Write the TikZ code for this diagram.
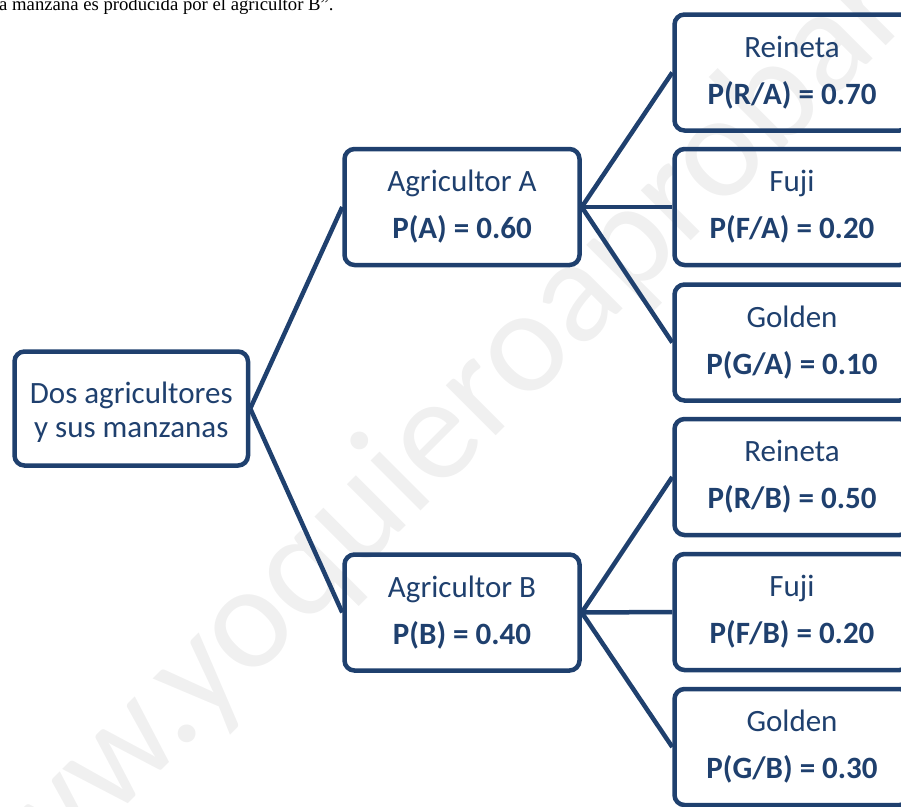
\documentclass[tikz,border=0pt]{standalone}
\usepackage{fontspec}
\setmainfont{Carlito}
\newfontfamily\serifface{Liberation Serif}
\definecolor{navy}{HTML}{1F406E}
\definecolor{wmgray}{HTML}{F0F0F0}
\begin{document}
\begin{tikzpicture}[x=1pt,y=-1pt,
  box/.style={draw=navy, line width=4.5pt, rounded corners=10pt, text=navy,
    align=center, inner sep=0pt, minimum height=116pt, minimum width=235pt,
    font=\fontsize{31}{47}\selectfont},
  conn/.style={draw=navy, line width=4.5pt}]
\useasboundingbox (0,0) rectangle (901,806);
\clip (0,0) rectangle (901,806);
\node[rotate=45, inner sep=0pt, text=wmgray, font=\fontsize{148}{148}\selectfont] (wmark) at (465,411) {www.yoquieroaprobar.es};
\node[anchor=base west, inner sep=0pt, font=\serifface\fontsize{18.7}{22}\selectfont] (toptext) at (-1,10.5) {a manzana es producida por el agricultor B”.};
\node[box, minimum width=233.5pt, minimum height=114pt, font=\fontsize{31}{34}\selectfont] (root) at (131.25,408.5) {\rule{0pt}{29pt}Dos agricultores\\y sus manzanas};
\node[box] (A) at (462,207) {Agricultor A\\\textbf{P(A) = 0.60}};
\node[box] (B) at (462,612.5) {Agricultor B\\\textbf{P(B) = 0.40}};
\node[box] (RA) at (792,72.5) {Reineta\\\textbf{P(R/A) = 0.70}};
\node[box] (FA) at (792,207) {Fuji\\\textbf{P(F/A) = 0.20}};
\node[box] (GA) at (792,342.5) {Golden\\\textbf{P(G/A) = 0.10}};
\node[box] (RB) at (792,477) {Reineta\\\textbf{P(R/B) = 0.50}};
\node[box] (FB) at (792,612) {Fuji\\\textbf{P(F/B) = 0.20}};
\node[box] (GB) at (792,747) {Golden\\\textbf{P(G/B) = 0.30}};
\draw[conn] (root.east) -- (A.west);
\draw[conn] (root.east) -- (B.west);
\draw[conn] (A.east) -- (RA.west);
\draw[conn] (A.east) -- (FA.west);
\draw[conn] (A.east) -- (GA.west);
\draw[conn] (B.east) -- (RB.west);
\draw[conn] (B.east) -- (FB.west);
\draw[conn] (B.east) -- (GB.west);
\end{tikzpicture}
\end{document}
